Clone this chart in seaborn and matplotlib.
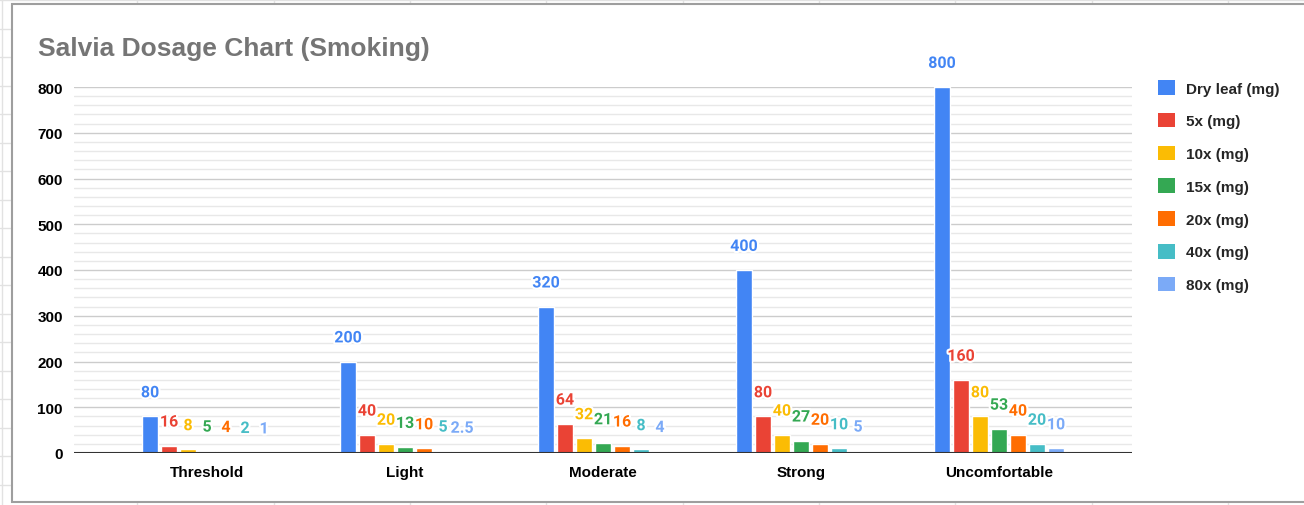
import matplotlib
matplotlib.use("Agg")
import matplotlib.pyplot as plt
import matplotlib.patches as patches
import matplotlib.patheffects as pe
from matplotlib.lines import Line2D
from matplotlib.ticker import MultipleLocator
import seaborn as sns
import pandas as pd

# data
levels = ["Threshold", "Light", "Moderate", "Strong", "Uncomfortable"]
series = ["Dry leaf (mg)", "5x (mg)", "10x (mg)", "15x (mg)", "20x (mg)", "40x (mg)", "80x (mg)"]
dry_leaf = [80, 200, 320, 400, 800]
x5 = [16, 40, 64, 80, 160]
x10 = [8, 20, 32, 40, 80]
x15 = [5, 13, 21, 27, 53]
x20 = [4, 10, 16, 20, 40]
x40 = [2, 5, 8, 10, 20]
x80 = [1, 2.5, 4, 5, 10]
colors = ["#4285F4", "#EA4335", "#FBBC04", "#34A853", "#FF6D01", "#46BDC6", "#7BAAF7"]

rows = []
for name, vals in zip(series, [dry_leaf, x5, x10, x15, x20, x40, x80]):
    for lvl, v in zip(levels, vals):
        rows.append({"level": lvl, "series": name, "mg": v})
df = pd.DataFrame(rows)

sns.set_theme(style="white")
plt.rcParams["font.family"] = ["Liberation Sans", "DejaVu Sans"]

W, H = 1304, 506
fig = plt.figure(figsize=(W / 100, H / 100), dpi=100)
fig.patch.set_facecolor("white")

# spreadsheet cells behind the chart
for xc in [2, 137, 274, 410, 546, 683, 819, 955, 1092, 1228]:
    fig.add_artist(Line2D([xc / W, xc / W], [0, 1], color="#e2e2e2", lw=1, zorder=0))
for k in range(19):
    yc = 1 + 28.5 * k
    fig.add_artist(Line2D([0, 1], [1 - yc / H, 1 - yc / H], color="#e2e2e2", lw=1, zorder=0))

# chart box
box = patches.Rectangle((12 / W, 1 - 503 / H), (W + 10) / W, (503 - 5) / H,
                        transform=fig.transFigure, facecolor="white",
                        edgecolor="#9e9e9e", lw=1.5, zorder=1)
fig.add_artist(box)

ax = fig.add_axes([74 / W, 52 / H, 1058 / W, 366 / H])
ax.set_zorder(2)
ax.patch.set_alpha(0)

sns.barplot(data=df, x="level", y="mg", hue="series", order=levels, hue_order=series,
            palette=colors, width=0.672, gap=0.14, saturation=1, legend=False, ax=ax)

ax.set_xlim(-0.672, 4.672)
ax.set_ylim(0, 800)
ax.yaxis.set_major_locator(MultipleLocator(100))
ax.yaxis.set_minor_locator(MultipleLocator(20))
ax.grid(True, which="major", axis="y", color="#cccccc", lw=1)
ax.grid(True, which="minor", axis="y", color="#e8e8e8", lw=1)
ax.set_axisbelow(True)
for s in ax.spines.values():
    s.set_visible(False)
ax.axhline(0, color="#333333", lw=1.5, zorder=3)
ax.tick_params(axis="both", which="both", length=0)
ax.tick_params(axis="y", pad=8)
ax.tick_params(axis="x", pad=9)
ax.set_xlabel("")
ax.set_ylabel("")
for lab in ax.get_xticklabels() + ax.get_yticklabels():
    lab.set_fontsize(11)
    lab.set_fontweight("bold")
    lab.set_color("black")

# value labels above each bar
for cont, col in zip(ax.containers, colors):
    for bar in cont:
        v = bar.get_height()
        ax.annotate(f"{v:g}", (bar.get_x() + bar.get_width() / 2, v),
                    xytext=(0, 17), textcoords="offset points",
                    ha="center", va="center", fontsize=11.5, fontweight="bold",
                    family=["Roboto", "DejaVu Sans"], color=col, clip_on=False,
                    path_effects=[pe.withStroke(linewidth=3, foreground="white")],
                    zorder=5)

fig.text(38 / W, 1 - 56 / H, "Salvia Dosage Chart (Smoking)", fontsize=19,
         fontweight="bold", color="#757575", ha="left", va="baseline")

handles = [patches.Patch(facecolor=c, edgecolor="none") for c in colors]
fig.legend(handles, series, loc="upper left", bbox_to_anchor=(1158 / W, 1 - 81 / H),
           frameon=False, prop={"size": 11, "weight": "bold"},
           handlelength=1.1, handleheight=1.1, handletextpad=0.75,
           labelspacing=1.13, borderpad=0, borderaxespad=0)

fig.savefig("out.png", dpi=100)
